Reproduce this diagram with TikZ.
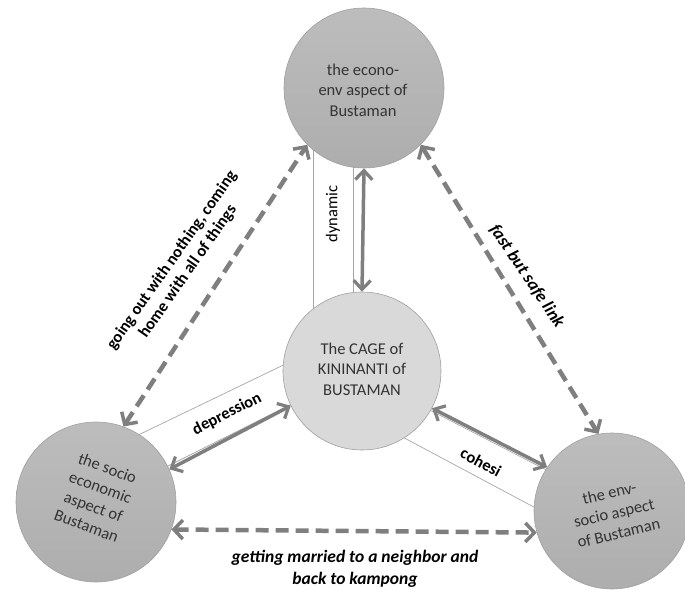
\documentclass[tikz,border=0pt]{standalone}
\usepackage{fontspec}
\setmainfont{Carlito}
\usetikzlibrary{arrows.meta}
\definecolor{arrgray}{HTML}{7F7F7F}
\definecolor{boxgray}{HTML}{A6A6A6}
\definecolor{rimgray}{HTML}{A0A0A0}
\begin{document}
\begin{tikzpicture}[x=1pt,y=-1pt,
  outer/.style={circle,draw=rimgray,line width=0.6pt,minimum size=#1,inner sep=0pt,top color=black!26,bottom color=black!32},
  inner/.style={circle,draw=rimgray,line width=0.6pt,minimum size=#1,inner sep=0pt,fill=black!15},
  ctext/.style={align=center,font=\fontsize{16.5}{20.5}\selectfont,text=black!80,inner sep=0pt},
  lbl/.style={align=center,font=\fontsize{16.5}{19.5}\selectfont\bfseries,inner sep=0pt},
  ilbl/.style={align=center,font=\fontsize{17.5}{22}\selectfont\bfseries\itshape,inner sep=0pt},
  boxline/.style={draw=boxgray,line width=0.7pt},
  dasharrow/.style={draw=arrgray,line width=4.5pt,dash pattern=on 13pt off 7pt,{Straight Barb[length=9pt,width=19pt,line width=3.5pt]}-{Straight Barb[length=9pt,width=19pt,line width=3.5pt]}},
  solidarrow/.style={draw=arrgray,line width=3.5pt,{Straight Barb[length=9pt,width=17pt,line width=3.2pt]}-{Straight Barb[length=9pt,width=17pt,line width=3.2pt]}}
]
\useasboundingbox (0,0) rectangle (685,589);
% label boxes (behind the circles)
\draw[boxline] (313,140) -- (353,140) -- (353,310) -- (313,310) -- cycle;
\draw[boxline] (130,439) -- (300,357) -- (300,400) -- (150,475) -- cycle;
\draw[boxline] (420,405) -- (560,477) -- (545,513) -- (395,433) -- cycle;
% circles
\node[outer=160pt] (T) at (364,88) {};
\node[inner=158pt] (C) at (362,371) {};
\node[outer=160pt] (L) at (96,502) {};
\node[outer=156pt] (R) at (612,511) {};
\node[ctext] (Tt) at (363,90) {the econo-\\env aspect of\\Bustaman};
\node[ctext] (Ct) at (362,369) {The CAGE of\\KININANTI of\\BUSTAMAN};
\node[ctext,rotate=-20] (Lt) at (97,497) {the socio\\economic\\aspect of\\Bustaman};
\node[ctext,rotate=13] (Rt) at (614,513) {the env-\\socio aspect\\of Bustaman};
% connectors
\draw[dasharrow] (L.70) -- (T.225);
\draw[dasharrow] (T.-45) -- (R.100);
\draw[dasharrow] (L.-20) -- (R.196);
\draw[solidarrow] (T.south) -- (C.north);
\draw[solidarrow] (L.24) -- (C.206);
\draw[solidarrow] (C.-28) -- (R.146);
% labels
\node[font=\fontsize{16.5}{18}\selectfont,rotate=90,inner sep=0pt] (dyn) at (333,214) {dynamic};
\node[lbl,rotate=27] (dep) at (227,414) {depression};
\node[lbl,rotate=-28] (coh) at (481,462) {cohesi};
\node[lbl,rotate=55] (go) at (180,266) {going out with nothing, coming\\home with all of things};
\node[ilbl,rotate=-56] (fast) at (527,276) {fast but safe link};
\node[ilbl] (mar) at (355,569) {getting married to a neighbor and\\back to kampong};
\end{tikzpicture}
\end{document}
